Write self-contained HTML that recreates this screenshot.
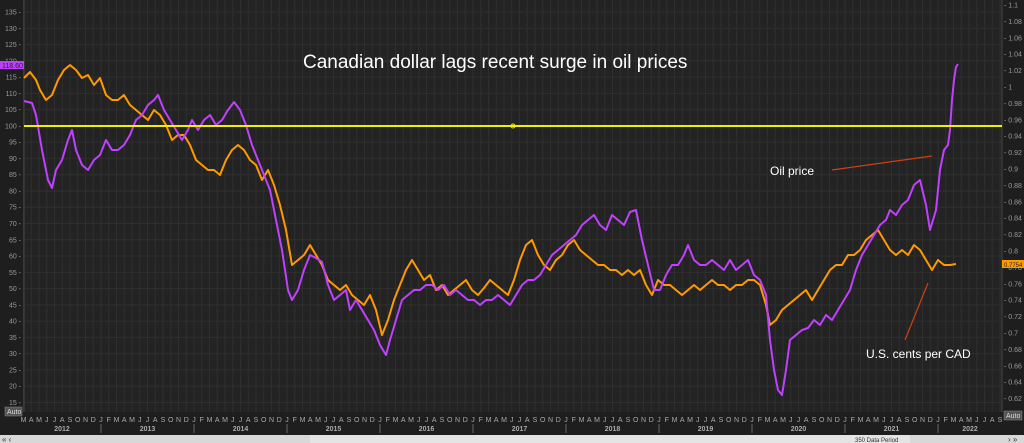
<!DOCTYPE html><html><head><style>body{margin:0;background:#1e1e1e;overflow:hidden}svg{display:block}</style></head><body>
<svg width="1024" height="443" xmlns="http://www.w3.org/2000/svg" font-family="Liberation Sans, sans-serif">
<rect width="1024" height="443" fill="#1e1e1e"/>
<rect x="24" y="0" width="978" height="412" fill="#232323"/>
<g id="g" stroke="#2f2f2f" stroke-width="1"></g>
<line x1="24" y1="0" x2="24" y2="412" stroke="#444"/>
<line x1="1002" y1="0" x2="1002" y2="412" stroke="#444"/>
<g id="lt" fill="#9a9a9a" font-size="7"></g>
<g id="bt" fill="#aaa" font-size="7"></g>
<polyline fill="none" stroke="#ff9900" stroke-width="2" stroke-linejoin="round" points="24,78 30,72 36,80 40,90 46,100 52,95 58,80 64,70 70,65 76,70 82,78 88,75 94,85 100,78 106,95 112,100 118,100 124,95 130,105 136,110 142,115 148,120 154,110 160,115 166,125 172,140 178,135 184,135 190,145 196,160 202,165 208,170 214,170 220,175 226,160 232,150 238,145 244,150 250,160 256,165 262,180 268,170 274,185 280,205 286,230 292,265 298,260 304,255 310,245 316,255 322,265 328,280 334,285 340,290 346,285 352,295 358,300 364,305 370,295 376,310 382,335 388,320 394,300 400,285 406,270 412,260 418,270 424,280 430,275 436,290 442,285 448,295 454,290 460,285 466,280 472,290 478,295 484,288 490,280 496,285 502,290 508,295 514,280 520,260 526,245 532,240 538,255 544,265 550,270 556,260 562,255 568,245 574,240 580,250 586,255 592,260 598,265 604,265 610,270 616,270 622,275 628,270 634,275 640,270 646,285 652,295 658,280 664,285 670,285 676,290 682,295 688,290 694,285 700,290 706,285 712,280 718,285 724,285 730,290 736,285 742,285 748,280 754,280 760,285 766,305 770,325 776,320 782,310 788,305 794,300 800,295 806,290 812,300 818,290 824,280 830,270 836,265 842,265 848,255 854,255 860,250 866,240 872,235 878,230 884,240 890,250 896,255 902,250 908,255 914,245 920,250 926,260 932,270 938,260 944,265 950,265 956,264"/>
<polyline fill="none" stroke="#c040ff" stroke-width="2" stroke-linejoin="round" points="24,101 32,103 36,115 42,150 48,180 52,188 56,170 62,160 68,140 72,130 76,150 82,165 88,170 94,160 100,155 106,140 112,150 118,150 124,145 130,135 136,120 142,115 148,105 154,100 158,95 164,110 170,120 176,130 182,140 188,130 192,120 198,130 204,120 210,115 216,125 222,120 228,110 234,102 240,110 246,125 252,145 258,160 264,175 270,190 276,220 282,250 288,290 292,300 298,290 304,270 310,255 316,258 322,262 328,285 334,300 340,295 346,290 350,310 356,300 362,310 368,320 374,330 380,345 386,355 390,340 396,320 402,300 408,295 414,290 420,290 426,285 432,285 438,290 444,285 450,295 456,290 462,295 468,300 474,300 480,305 486,300 492,300 498,295 504,300 510,305 516,295 522,285 528,280 534,280 540,275 546,265 552,255 558,250 564,245 570,240 576,235 582,225 588,220 594,215 600,225 606,230 612,215 618,220 624,225 630,212 636,210 642,240 648,265 654,290 660,290 666,275 672,265 678,265 684,255 688,245 694,260 700,265 706,265 712,260 718,265 724,270 730,260 736,270 742,265 748,260 754,275 760,280 766,295 770,340 774,370 778,390 782,395 786,370 790,340 796,335 802,330 808,328 814,320 820,325 826,315 832,320 838,310 844,300 850,290 856,270 862,255 868,245 874,235 880,225 886,220 890,210 896,215 902,205 908,200 914,185 920,180 926,205 930,230 936,210 940,170 944,150 948,145 950,130 952,100 954,80 956,67 958,64"/>
<line x1="24" y1="126" x2="1002" y2="126" stroke="#f0f000" stroke-width="2"/>
<circle cx="513" cy="126" r="2" fill="none" stroke="#f0f000"/>
<line x1="832" y1="170" x2="932" y2="156" stroke="#d04010" stroke-width="1.2"/>
<line x1="905" y1="340" x2="928" y2="283" stroke="#d04010" stroke-width="1.2"/>
<text x="303" y="68" fill="#fff" font-size="19">Canadian dollar lags recent surge in oil prices</text>
<text x="770" y="175" fill="#fff" font-size="12">Oil price</text>
<text x="866" y="358" fill="#fff" font-size="12">U.S. cents per CAD</text>
<rect x="0" y="61" width="24" height="8" fill="#c040ff"/><text x="2" y="68" font-size="7" fill="#222">118.60</text>
<rect x="1002" y="260" width="22" height="8" fill="#ff9900"/><text x="1004" y="267" font-size="6" fill="#222">0.7754</text>
<rect x="5" y="407" width="17" height="9" fill="#555" stroke="#888" stroke-width="0.5"/><text x="7" y="414" font-size="7" fill="#ddd">Auto</text>
<rect x="1004" y="411" width="18" height="9" fill="#555" stroke="#888" stroke-width="0.5"/><text x="1006" y="418" font-size="7" fill="#ddd">Auto</text>
<rect x="0" y="435" width="1024" height="8" fill="#d8d8d8"/>
<rect x="310" y="435" width="600" height="8" fill="#e4e4e4"/>
<text x="855" y="442" font-size="6" fill="#333">350 Data Period</text>
<text x="2" y="442" font-size="8" fill="#333">«  ‹</text><text x="1008" y="442" font-size="8" fill="#333">› »</text>
</svg>
<script>
var ns="http://www.w3.org/2000/svg",g=document.getElementById('g'),lt=document.getElementById('lt'),bt=document.getElementById('bt');
function el(p,t,a,txt){var e=document.createElementNS(ns,t);for(var k in a)e.setAttribute(k,a[k]);if(txt)e.textContent=txt;p.appendChild(e);}
for(var v=15;v<=135;v+=5){var y=12+(135-v)/5*16.27;el(g,'line',{x1:24,x2:1002,y1:y,y2:y});el(lt,'text',{x:21,y:y+2.5,'text-anchor':'end'},v+' -');}
for(var i=0;i<=24;i++){var v=1.1-i*0.02,y=5+i*16.4;el(lt,'text',{x:1004,y:y+2.5},'- '+(Math.round(v*100)/100));}
var M='JFMAMJJASOND',x0=101-9*7.75;
for(var m=2;m<12*11;m++){var x=101+(m-12)*7.75;if(x>1000)break;el(g,'line',{x1:x,x2:x,y1:0,y2:412});el(bt,'text',{x:x,y:422,'text-anchor':'middle'},M[m%12]);}
for(var yr=2012;yr<=2022;yr++){var xs=101+(yr-2013)*93,xc=Math.max(xs,24);el(bt,'text',{x:(yr==2012?62:yr==2022?970:xs+46.5),y:431,'text-anchor':'middle','font-weight':'bold'},String(yr));if(yr>2012)el(g,'line',{x1:xs,x2:xs,y1:424,y2:433,stroke:'#666'});}
</script>
</body></html>
